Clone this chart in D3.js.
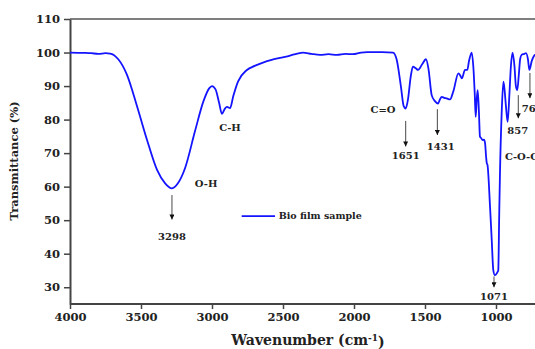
<!DOCTYPE html>
<html>
<head>
<meta charset="utf-8">
<script src="https://cdn.jsdelivr.net/npm/d3@7"></script>
<style>
  body{margin:0;background:#fff;}
  svg text{font-family:"DejaVu Serif",serif;font-weight:bold;fill:#222;}
</style>
</head>
<body>
<div id="chart"></div>
<script>
// FTIR spectrum
var wavenumber=[4000,3900,3850,3800,3750,3718,3660,3600,3528,3458,3387,3330,3282,3240,3190,3120,3060,3020,3000,2975,2950,2930,2910,2894,2873,2850,2817,2754,2700,2641,2580,2521,2450,2400,2359,2300,2239,2180,2120,2060,2007,1950,1908,1800,1725,1700,1670,1650,1636,1620,1600,1585,1565,1549,1520,1493,1475,1453,1430,1408,1395,1382,1365,1347,1324,1300,1265,1250,1241,1218,1202,1190,1171,1160,1150,1143,1136,1129,1120,1113,1105,1094,1085,1077,1070,1065,1060,1042,1030,1019,1008,1000,990,984,978,972,960,948,940,930,918,905,895,883,870,860,850,840,830,820,800,789,775,765,748,725,700];
var transmittance=[100,99.9,99.8,99.6,99.8,99.7,98,93.5,84,74,65,61,59.5,61,65.5,76.5,85.5,89.3,90,89,85,81.7,83.2,83.8,83.4,87,91.3,94.8,96,97,97.8,98.4,99.1,99.7,100,99.6,99.3,99.5,99.3,99.6,99.5,100,100.1,100.1,100,98,90,84,83.3,86,93,95.8,95.3,94.8,96.5,98,95,87.3,85.5,84.8,86,86.8,86.5,86.3,86,88.5,93.8,93,92.3,94.8,94.8,97.5,100,96,88,80.8,86,88.8,82,74.9,74.5,73.9,74,73,69,67,66.5,54,44,35.1,33.6,33.8,34.5,35,50,64,82,91.3,89,84,79.3,88,96,100,96,90,88.8,93,98,99.3,99.6,99.8,98,94.8,97.5,99.3,99.6];

var xTicks=[4000,3500,3000,2500,2000,1500,1000];
var yTicks=[30,40,50,60,70,80,90,100,110];

// peak labels: [text, wavenumber, value, anchor]
var labels=[["O-H",3042,61,"middle"],["3298",3282,45,"middle"],["C-H",2873,77.5,"middle"],
  ["C=O",1796,83.1,"middle"],["1651",1636,69.4,"middle"],["1431",1389,72.1,"middle"],
  ["857",847,76.7,"middle"],["765",819,83.4,"start"],["C-O-C",937,68.9,"start"],["1071",1014,27.3,"middle"]];
// arrows: [wavenumber, from value, to value]
var arrows=[[3282,57.5,50.2],[1636,79.6,72],[1413,83.1,75.4],[843,87.3,80.4],[761,93.9,86.4],[1014,33.2,30]];

var W=535,H=349;
var margin={top:19,left:70,bottom:45};
var svg=d3.select("#chart").append("svg").attr("width",W).attr("height",H);

var x=d3.scaleLinear().domain([4000,400]).range([margin.left,margin.left+3600*0.142]);
var y=d3.scaleLinear().domain([25,110]).range([H-margin.bottom,margin.top]);

svg.append("defs").append("marker").attr("id","ah")
  .attr("viewBox","0 0 10 10").attr("refX",5).attr("refY",10)
  .attr("markerWidth",5).attr("markerHeight",6).attr("markerUnits","userSpaceOnUse")
  .append("path").attr("d","M0,0 L10,0 L5,10 Z").attr("fill","#111");

// top frame
svg.append("line").attr("x1",x(4000)).attr("x2",W).attr("y1",y(110)).attr("y2",y(110))
  .attr("stroke","#555").attr("stroke-width",1.5);

var xAxis=svg.append("g").attr("transform","translate(0,"+y(25)+")")
  .call(d3.axisBottom(x).tickValues(xTicks).tickFormat(d3.format("d")).tickSize(5).tickSizeOuter(0).tickPadding(4));
var yAxis=svg.append("g").attr("transform","translate("+x(4000)+",0)")
  .call(d3.axisLeft(y).tickValues(yTicks).tickSize(6).tickSizeOuter(0).tickPadding(4));
[xAxis,yAxis].forEach(function(a){
  a.select(".domain").attr("stroke","#444").attr("stroke-width",2);
  a.selectAll(".tick line").attr("stroke","#444").attr("stroke-width",1.5);
  a.selectAll(".tick text").style("font-family","'DejaVu Serif',serif").style("font-weight","bold")
    .style("font-size","11.5px").attr("fill","#222");
});
xAxis.select(".domain").attr("d","M"+x(4000)+",0H"+W);

var line=d3.line().x(function(d,i){return x(wavenumber[i]);}).y(function(d){return y(d);})
  .curve(d3.curveMonotoneX);
svg.append("path").datum(transmittance).attr("d",line)
  .attr("fill","none").attr("stroke","#1414ff").attr("stroke-width",1.8);

svg.selectAll(".arr").data(arrows).enter().append("line").attr("class","arr")
  .attr("x1",function(d){return x(d[0]);}).attr("x2",function(d){return x(d[0]);})
  .attr("y1",function(d){return y(d[1]);}).attr("y2",function(d){return y(d[2]);})
  .attr("stroke","#333").attr("stroke-width",0.9).attr("marker-end","url(#ah)");

svg.selectAll(".lab").data(labels).enter().append("text").attr("class","lab")
  .attr("x",function(d){return x(d[1]);}).attr("y",function(d){return y(d[2]);})
  .attr("dy","0.35em").attr("text-anchor",function(d){return d[3];})
  .style("font-size","10px").text(function(d){return d[0];});

// legend
svg.append("line").attr("x1",x(2791)).attr("x2",x(2556)).attr("y1",y(51.2)).attr("y2",y(51.2))
  .attr("stroke","#1414ff").attr("stroke-width",1.8);
svg.append("text").attr("x",x(2530)).attr("y",y(51.2)).attr("dy","0.35em")
  .style("font-size","9.5px").text("Bio film sample");

// axis titles
var xt=svg.append("text").attr("x",308).attr("y",340).attr("dy","0.35em").attr("text-anchor","middle")
  .style("font-size","14px");
xt.append("tspan").text("Wavenumber (cm");
xt.append("tspan").attr("dy","-0.45em").style("font-size","9px").text("-1");
xt.append("tspan").attr("dy","0.45em").text(")");
svg.append("text").attr("transform","translate(14,161) rotate(-90)").attr("dy","0.35em")
  .attr("text-anchor","middle").style("font-size","11.5px").text("Transmittance (%)");
</script>
</body>
</html>
